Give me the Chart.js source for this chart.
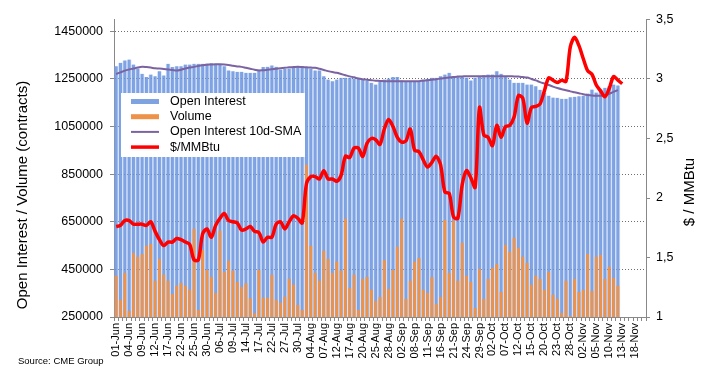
<!DOCTYPE html>
<html>
<head>
<meta charset="utf-8">
<script src="https://cdn.jsdelivr.net/npm/chart.js@4/dist/chart.umd.min.js"></script>
<style>
  body { margin: 0; background: #fff; }
  #wrap { position: relative; width: 713px; height: 381px; }
</style>
</head>
<body>
<div id="wrap"><canvas id="chart"></canvas></div>
<script>
/*
    natural gas futures: open interest, volume and price
*/

// trading days, 01-Jun .. 20-Nov
const dates = ("01-Jun 02-Jun 03-Jun 04-Jun 05-Jun 08-Jun 09-Jun 10-Jun 11-Jun 12-Jun 15-Jun 16-Jun 17-Jun 18-Jun 19-Jun 22-Jun 23-Jun 24-Jun 25-Jun 26-Jun 29-Jun 30-Jun " +
    "01-Jul 02-Jul 06-Jul 07-Jul 08-Jul 09-Jul 10-Jul 13-Jul 14-Jul 15-Jul 16-Jul 17-Jul 20-Jul 21-Jul 22-Jul 23-Jul 24-Jul 27-Jul 28-Jul 29-Jul 30-Jul 31-Jul " +
    "03-Aug 04-Aug 05-Aug 06-Aug 07-Aug 10-Aug 11-Aug 12-Aug 13-Aug 14-Aug 17-Aug 18-Aug 19-Aug 20-Aug 21-Aug 24-Aug 25-Aug 26-Aug 27-Aug 28-Aug 31-Aug " +
    "01-Sep 02-Sep 03-Sep 04-Sep 08-Sep 09-Sep 10-Sep 11-Sep 14-Sep 15-Sep 16-Sep 17-Sep 18-Sep 21-Sep 22-Sep 23-Sep 24-Sep 25-Sep 28-Sep 29-Sep 30-Sep " +
    "01-Oct 02-Oct 05-Oct 06-Oct 07-Oct 08-Oct 09-Oct 12-Oct 13-Oct 14-Oct 15-Oct 16-Oct 19-Oct 20-Oct 21-Oct 22-Oct 23-Oct 26-Oct 27-Oct 28-Oct 29-Oct 30-Oct " +
    "02-Nov 03-Nov 04-Nov 05-Nov 06-Nov 09-Nov 10-Nov 11-Nov 12-Nov 13-Nov 16-Nov 17-Nov 18-Nov 19-Nov 20-Nov").split(" ");

// contracts
const openInterest = [
    1304000,1318000,1328000,1332000,1311000,1294000,1272000,1258000,1269000,1262000,
    1283000,1265000,1314000,1300000,1304000,1304000,1311000,1311000,1314000,1314000,
    1314000,1315000,1316000,1314000,1313000,1304000,1286000,1283000,1280000,1280000,
    1276000,1276000,1276000,1290000,1300000,1301000,1307000,1301000,1290000,1293000,
    1294000,1300000,1300000,1304000,1297000,1294000,1286000,1286000,1262000,1248000,
    1241000,1248000,1255000,1255000,1255000,1252000,1252000,1248000,1244000,1234000,
    1227000,1241000,1248000,1252000,1258000,1258000,1244000,1241000,1241000,1241000,
    1241000,1248000,1251000,1255000,1255000,1262000,1269000,1276000,1262000,1262000,
    1258000,1255000,1244000,1255000,1262000,1266000,1269000,1269000,1283000,1272000,
    1262000,1248000,1234000,1234000,1234000,1227000,1227000,1220000,1205000,1192000,
    1180000,1172000,1171000,1167000,1167000,1173000,1175000,1178000,1180000,1189000,
    1206000,1193000,1206000,1213000,1220000,1227000,1223000
];
const volume = [
    423000,322000,435000,275000,519000,503000,515000,549000,557000,402000,
    494000,427000,402000,347000,381000,393000,381000,364000,621000,279000,
    532000,448000,418000,351000,612000,439000,486000,444000,397000,376000,
    392000,329000,266000,448000,331000,331000,427000,322000,310000,335000,
    410000,385000,300000,279000,890000,549000,435000,402000,528000,494000,
    435000,482000,444000,663000,372000,427000,279000,410000,418000,364000,
    317000,334000,490000,368000,448000,545000,663000,326000,402000,482000,
    498000,364000,351000,418000,305000,334000,658000,435000,654000,402000,
    562000,423000,397000,288000,452000,326000,410000,456000,473000,355000,
    553000,524000,583000,541000,503000,477000,385000,423000,410000,364000,
    439000,343000,326000,267000,402000,254000,410000,355000,364000,515000,
    359000,503000,511000,410000,461000,414000,381000
];
const oiSma = [
    1271000,1278000,1285000,1290000,1294000,1298000,1301000,1300000,1298000,1295000,
    1294000,1292000,1290000,1288000,1286000,1289000,1294000,1298000,1301000,1305000,
    1308000,1310000,1311000,1312000,1312000,1311000,1309000,1306000,1303000,1301000,
    1297000,1293000,1289000,1286000,1287000,1289000,1291000,1293000,1295000,1297000,
    1299000,1300000,1301000,1300000,1299000,1298000,1297000,1293000,1288000,1283000,
    1279000,1276000,1271000,1266000,1261000,1257000,1252000,1249000,1247000,1245000,
    1243000,1242000,1241000,1241000,1241000,1241000,1241000,1241000,1241000,1241000,
    1241000,1243000,1245000,1247000,1249000,1252000,1254000,1256000,1258000,1260000,
    1261000,1262000,1262000,1262000,1262000,1262000,1262000,1262000,1262000,1262000,
    1262000,1262000,1261000,1260000,1258000,1256000,1250000,1244000,1237000,1231000,
    1225000,1218000,1212000,1207000,1203000,1198000,1194000,1190000,1186000,1183000,
    1181000,1180000,1180000,1182000,1188000,1196000,1203000
];
// $/MMBtu
const price = [
    1.76,1.77,1.81,1.81,1.78,1.78,1.78,1.77,1.80,1.72,
    1.65,1.60,1.63,1.63,1.66,1.65,1.63,1.61,1.48,1.48,
    1.70,1.74,1.67,1.77,1.83,1.87,1.81,1.80,1.79,1.73,
    1.74,1.76,1.72,1.71,1.63,1.67,1.67,1.78,1.80,1.74,
    1.80,1.85,1.83,1.79,2.12,2.18,2.18,2.16,2.23,2.16,
    2.16,2.14,2.19,2.35,2.34,2.42,2.42,2.35,2.46,2.50,
    2.49,2.45,2.58,2.66,2.60,2.51,2.47,2.48,2.58,2.40,
    2.39,2.32,2.26,2.30,2.35,2.28,2.05,2.04,1.84,1.83,
    2.11,2.23,2.17,2.09,2.76,2.53,2.51,2.44,2.61,2.51,
    2.60,2.61,2.68,2.86,2.84,2.63,2.76,2.77,2.79,2.90,
    3.01,2.99,2.97,2.99,2.98,3.27,3.35,3.28,3.17,3.07,
    3.04,2.95,2.90,2.85,2.92,3.02,2.99,2.96
];
const leftTicks = [250000, 450000, 650000, 850000, 1050000, 1250000, 1450000];

const FONT = "'Liberation Sans', Arial, sans-serif";
const oiColor = "rgba(104,147,222,0.85)";
const oiEdge = "rgba(160,190,238,0.35)";
const volColor = "#ee9149";
const smaColor = "#7b62a0";
const priceColor = "#ff0000";

Chart.defaults.font.family = FONT;
Chart.defaults.color = "#000";

// titles, legend box and source note drawn straight onto the canvas
const decor = {
    id: "decor",
    afterDraw(chart) {
        const ctx = chart.ctx;
        ctx.save();
        // legend box
        ctx.fillStyle = "#fff";
        ctx.fillRect(121, 93, 184, 64);
        const items = [
            ["Open Interest", "box", "#7fa3e1"],
            ["Volume", "box", volColor],
            ["Open Interest 10d-SMA", "line2", smaColor],
            ["$/MMBtu", "line3", priceColor]
        ];
        ctx.font = "12.5px " + FONT;
        ctx.textBaseline = "middle";
        items.forEach(([text, kind, color], k) => {
            const y = 101.5 + k * 15.2;
            if (kind === "box") {
                ctx.fillStyle = color;
                ctx.fillRect(131, y - 2.5, 28, 5);
            } else {
                ctx.strokeStyle = color;
                ctx.lineWidth = kind === "line3" ? 3.5 : 2;
                ctx.beginPath();
                ctx.moveTo(131, y);
                ctx.lineTo(159, y);
                ctx.stroke();
            }
            ctx.fillStyle = "#000";
            ctx.textAlign = "left";
            ctx.fillText(text, 170, y);
        });
        // axis titles
        ctx.font = "15px " + FONT;
        ctx.textAlign = "center";
        ctx.translate(23, 195);
        ctx.rotate(-Math.PI / 2);
        ctx.fillText("Open Interest / Volume (contracts)", 0, 0);
        ctx.setTransform(1, 0, 0, 1, 0, 0);
        ctx.translate(690, 192);
        ctx.rotate(-Math.PI / 2);
        ctx.fillText("$ / MMBtu", 0, 0);
        ctx.setTransform(1, 0, 0, 1, 0, 0);
        // source
        ctx.font = "9.5px " + FONT;
        ctx.textAlign = "left";
        ctx.fillText("Source: CME Group", 18, 361);
        ctx.restore();
    }
};

const chart = new Chart("chart", {
    type: "bar",
    data: {
        labels: dates,
        datasets: [
            {
                type: "line",
                label: "$/MMBtu",
                data: price,
                yAxisID: "y2",
                borderColor: priceColor,
                borderWidth: 3.5,
                pointRadius: 0,
                tension: 0.3,
                order: 0
            },
            {
                type: "line",
                label: "Open Interest 10d-SMA",
                data: oiSma,
                yAxisID: "y",
                borderColor: smaColor,
                borderWidth: 2,
                pointRadius: 0,
                tension: 0.4,
                order: 1
            },
            {
                label: "Volume",
                data: volume,
                yAxisID: "y",
                backgroundColor: volColor,
                grouped: false,
                barPercentage: 0.65,
                categoryPercentage: 1,
                order: 2
            },
            {
                label: "Open Interest",
                data: openInterest,
                yAxisID: "y",
                backgroundColor: oiColor,
                borderColor: oiEdge,
                borderWidth: { left: 1, right: 1, top: 0, bottom: 0 },
                grouped: false,
                barPercentage: 1,
                categoryPercentage: 1,
                order: 3
            }
        ]
    },
    options: {
        responsive: true,
        maintainAspectRatio: false,
        animation: false,
        layout: { padding: { top: 19.5, left: 0, right: 0, bottom: 0 } },
        plugins: {
            legend: { display: false },
            tooltip: { enabled: false }
        },
        scales: {
            x: {
                offset: true,
                afterFit: s => { s.height = 64; },
                ticks: {
                    autoSkip: false,
                    minRotation: 90,
                    maxRotation: 90,
                    padding: 2,
                    font: { size: 11 },
                    callback: (v, i) => (i % 3 === 0 ? dates[i] : "")
                },
                grid: { drawOnChartArea: false, tickLength: 4, color: "#888" },
                border: { color: "#888" }
            },
            y: {
                position: "left",
                min: 250000,
                max: 1500000,
                afterFit: s => { s.width = 114; },
                afterBuildTicks: s => { s.ticks = leftTicks.map(v => ({ value: v })); },
                ticks: { padding: 7, font: { size: 12.5 }, callback: v => String(v) },
                grid: { color: "#6e6e6e", tickLength: 4, tickColor: "#888" },
                border: { color: "#888", dash: [1, 2] }
            },
            y2: {
                position: "right",
                min: 1,
                max: 3.5,
                afterFit: s => { s.width = 67; },
                ticks: {
                    stepSize: 0.5,
                    padding: 6,
                    font: { size: 12.5 },
                    callback: v => String(v).replace(".", ",")
                },
                grid: { drawOnChartArea: false, tickLength: 4, color: "#888" },
                border: { color: "#888" }
            }
        }
    },
    plugins: [decor]
});
</script>
</body>
</html>
